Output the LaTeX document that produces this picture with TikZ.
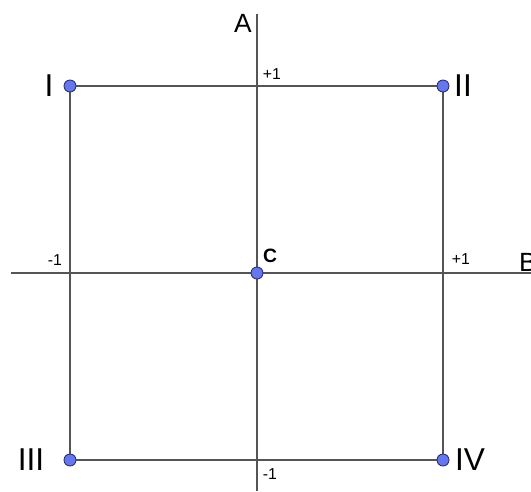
\documentclass[tikz,border=0pt]{standalone}
\usepackage{fontspec}
\setmainfont{Liberation Sans}
\usetikzlibrary{positioning}

\definecolor{ptblue}{RGB}{102,119,238}
\definecolor{ptedge}{RGB}{40,45,120}
\definecolor{linegray}{RGB}{85,85,85}

\begin{document}
\begin{tikzpicture}[
    x=0.02cm, y=-0.02cm,
    axis/.style={draw=linegray, line width=0.6pt},
    side/.style={draw=linegray, line width=0.6pt},
    pt/.style={circle, draw=ptedge, line width=0.5pt, fill=ptblue, minimum size=0.24cm, inner sep=0pt},
    corner/.style={inner sep=0pt, font=\fontsize{18}{20}\selectfont},
    axislbl/.style={inner sep=0pt, font=\fontsize{15}{17}\selectfont},
    tick/.style={inner sep=0pt, font=\fontsize{9}{10}\selectfont},
]
\useasboundingbox (0,0) rectangle (531,491);

% Axes
\coordinate (Atop) at (257,14);
\coordinate (Abot) at (257,491);
\coordinate (Bleft) at (11,273);
\coordinate (Bright) at (531,273);
\draw[axis] (Abot) -- (Atop);
\draw[axis] (Bleft) -- (Bright);

% Corners of the square
\coordinate (I) at (70,86);
\coordinate (II) at (443,86);
\coordinate (III) at (70,460);
\coordinate (IV) at (443,460);
\coordinate (C) at (257,273);
\draw[side] (I) -- (II) -- (IV) -- (III) -- cycle;

% Points
\node[pt] (dI) at (I) {};
\node[pt] (dII) at (II) {};
\node[pt] (dIII) at (III) {};
\node[pt] (dIV) at (IV) {};
\node[pt] (dC) at (C) {};

% Point labels
\node[corner] (lI) at (49,86) {I};
\node[corner] (lII) at (463,86) {II};
\node[corner] (lIII) at (31,460) {III};
\node[corner] (lIV) at (470,460) {IV};
\node[inner sep=0pt, font=\fontsize{11}{12}\selectfont\bfseries] (lC) at (270,256) {C};

% Axis labels
\node[axislbl] (lA) at (243,23) {A};
\node[axislbl] (lB) at (528,262) {B};

% Ticks
\node[tick] (tAp) at (272,74) {+1};
\node[tick] (tAm) at (270,474) {-1};
\node[tick] (tBm) at (55,260) {-1};
\node[tick] (tBp) at (461,259) {+1};

\end{tikzpicture}
\end{document}
